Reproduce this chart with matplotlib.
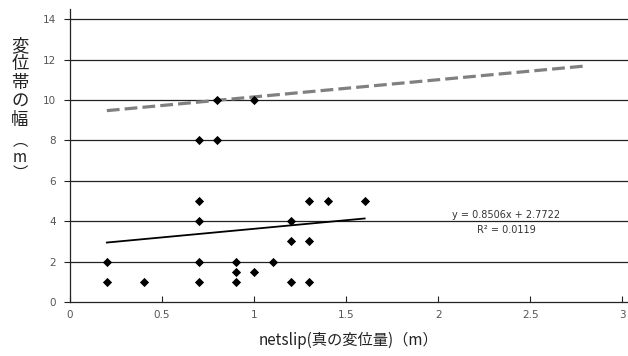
import matplotlib
matplotlib.use("Agg")
import matplotlib.pyplot as plt
import numpy as np

plt.rcParams['font.family'] = ['Noto Sans CJK JP', 'DejaVu Sans']

# data
netslip = [0.2, 0.2, 0.4, 0.7, 0.7, 0.7, 0.7, 0.7, 0.8, 0.8, 1.0, 0.9, 0.9, 0.9,
           1.0, 1.1, 1.2, 1.2, 1.2, 1.3, 1.3, 1.3, 1.4, 1.6]
width = [2, 1, 1, 1, 2, 4, 5, 8, 8, 10, 10, 2, 1.5, 1,
         1.5, 2, 4, 3, 1, 5, 3, 1, 5, 5]
fit_slope = 0.8506
fit_intercept = 2.7722
r2 = 0.0119
fit_x = [0.2, 1.6]
upper_intercept = 9.3
upper_x = [0.2, 2.8]
xticks = [0, 0.5, 1, 1.5, 2, 2.5, 3]
xtick_labels = ['0', '0.5', '1', '1.5', '2', '2.5', '3']
yticks = [0, 2, 4, 6, 8, 10, 12, 14]
ylabel_chars = ['変', '位', '帯', 'の', '幅']
ylabel_unit_chars = ['︵', 'm', '︶']
xlabel = 'netslip(真の変位量)（m）'

fig = plt.figure(figsize=(6.28, 3.56), dpi=100)
ax = fig.add_axes([70/628, 54/356, 558/628, 293/356])

ax.set_xlim(0, 3.03)
ax.set_ylim(0, 14.5)
for y in yticks[1:]:
    ax.axhline(y, color='#222222', lw=0.9, zorder=1)

ax.scatter(netslip, width, marker='D', s=22, color='black', zorder=3, linewidths=0)

fx = np.array(fit_x)
ax.plot(fx, fit_slope * fx + fit_intercept, color='black', lw=1.3, zorder=2)
ux = np.array(upper_x)
ax.plot(ux, fit_slope * ux + upper_intercept, color='#808080', lw=2.3,
        dashes=(4, 1.6), zorder=2)

ax.text(2.37, 4.3, f'y = {fit_slope}x + {fit_intercept}', ha='center', va='center',
        fontsize=7, color='#333333', family='DejaVu Sans')
ax.text(2.37, 3.56, f'R² = {r2}', ha='center', va='center',
        fontsize=7, color='#333333', family='DejaVu Sans')

ax.set_xticks(xticks)
ax.set_xticklabels(xtick_labels)
ax.set_yticks(yticks)
ax.tick_params(axis='x', direction='in', length=4, width=0.8, colors='#222222',
               labelcolor='#555555', labelsize=7.5, pad=6)
ax.tick_params(axis='y', direction='out', length=4, width=0.8, colors='#222222',
               labelcolor='#555555', labelsize=7.5, pad=6)
for lab in ax.get_xticklabels() + ax.get_yticklabels():
    lab.set_family('DejaVu Sans')

for s in ['top', 'right']:
    ax.spines[s].set_visible(False)
for s in ['left', 'bottom']:
    ax.spines[s].set_color('#222222')
    ax.spines[s].set_linewidth(0.9)

ax.set_xlabel(xlabel, fontsize=11, color='#222222', labelpad=8)

# vertical y label
y0 = 46
for i, ch in enumerate(ylabel_chars):
    fig.text(20/628, 1 - (y0 + i * 18.5) / 356, ch, ha='center', va='center',
             fontsize=12.5, color='#222222')
ypos_unit = [141, 157, 173]
for ch, yp in zip(ylabel_unit_chars, ypos_unit):
    fig.text(20/628, 1 - yp / 356, ch, ha='center', va='center',
             fontsize=11, color='#222222')

fig.savefig('out.png', dpi=100)
